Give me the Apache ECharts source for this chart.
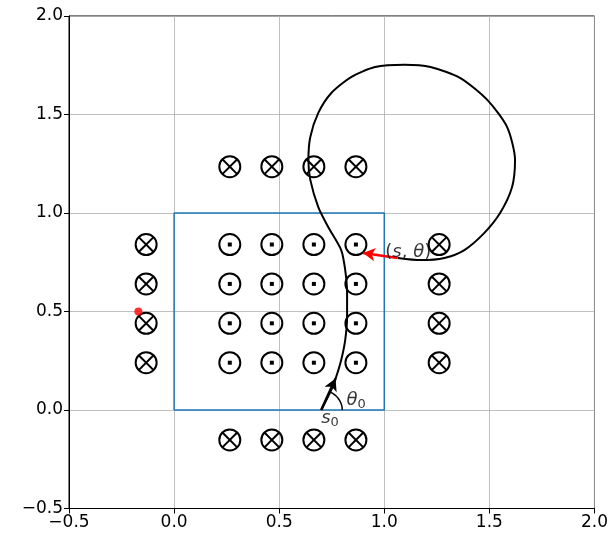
<!DOCTYPE html>
<html><head><meta charset="utf-8">
<script src="https://cdn.jsdelivr.net/npm/echarts@6/dist/echarts.min.js"></script>
<style>html,body{margin:0;padding:0;background:#fff}#c{width:611px;height:541px}</style>
</head><body><div id="c"></div>
<script>
// ---- data ----
const gridCols = [0.265, 0.465, 0.665, 0.865];
const gridRows = [0.24, 0.44, 0.64, 0.84];
const sideColsX = [-0.133, 1.261];
const topRowY = 1.235;
const bottomRowY = -0.152;
const trajX = [0.700,0.748,0.771,0.795,0.814,0.823,0.823,0.814,0.795,0.733,0.686,0.648,0.639,0.648,0.686,0.748,0.842,0.956,1.097,1.220,1.362,1.490,1.584,1.622,1.608,1.551,1.475,1.381,1.286,1.173,1.064];
const trajY = [0.000,0.102,0.168,0.254,0.355,0.472,0.594,0.711,0.812,0.929,1.030,1.168,1.269,1.386,1.508,1.609,1.690,1.741,1.753,1.741,1.685,1.574,1.437,1.269,1.132,1.000,0.898,0.812,0.772,0.761,0.772];
const redArrow = [[1.064, 0.772], [0.899, 0.797]];
const startArrow = [[0.700, 0.000], [0.768, 0.160]];
const theta0 = 66; // degrees
const arcRadius = 0.1;
const redDot = [-0.17, 0.5];
const boxX = [0, 1, 1, 0, 0];
const boxY = [0, 0, 1, 1, 0];
const xTicks = [-0.5, 0.0, 0.5, 1.0, 1.5, 2.0];
const yTicks = [-0.5, 0.0, 0.5, 1.0, 1.5, 2.0];

// ---- build ----
const dotPts = [];
gridRows.forEach(y => gridCols.forEach(x => dotPts.push([x, y, 0])));
const crossPts = [];
gridCols.forEach(x => { crossPts.push([x, topRowY, 1]); crossPts.push([x, bottomRowY, 1]); });
sideColsX.forEach(x => gridRows.forEach(y => crossPts.push([x, y, 1])));
const traj = trajX.map((x, i) => [x, trajY[i]]);
const box = boxX.map((x, i) => [x, boxY[i]]);
const arc = [];
for (let a = 0; a <= theta0; a += 3) {
  const r = a * Math.PI / 180;
  arc.push([startArrow[0][0] + arcRadius * Math.cos(r), startArrow[0][1] + arcRadius * Math.sin(r)]);
}
const fmt = v => (v < 0 ? '\u2212' : '') + Math.abs(v).toFixed(1);

function renderSym(params, api) {
  const p = api.coord([api.value(0), api.value(1)]);
  const kind = api.value(2);
  const r = 10.5;
  const st = { fill: null, stroke: '#000', lineWidth: 2 };
  const children = [{ type: 'circle', shape: { cx: p[0], cy: p[1], r: r }, style: st }];
  if (kind === 0) {
    children.push({ type: 'rect', shape: { x: p[0] - 2, y: p[1] - 2, width: 4, height: 4 }, style: { fill: '#000' } });
  } else {
    const d = r * 0.7071;
    children.push({ type: 'line', shape: { x1: p[0] - d, y1: p[1] - d, x2: p[0] + d, y2: p[1] + d }, style: { stroke: '#000', lineWidth: 2 } });
    children.push({ type: 'line', shape: { x1: p[0] - d, y1: p[1] + d, x2: p[0] + d, y2: p[1] - d }, style: { stroke: '#000', lineWidth: 2 } });
  }
  return { type: 'group', children: children };
}

const axisCommon = {
  type: 'value', min: -0.5, max: 2.0, interval: 0.5,
  axisLine: { show: true, onZero: false, lineStyle: { color: '#000', width: 1 } },
  axisTick: { show: true, inside: false, length: 5, lineStyle: { color: '#000' } },
  splitLine: { show: true, lineStyle: { color: '#b0b0b0', width: 0.8 } },
  axisLabel: { color: '#000', fontFamily: 'DejaVu Sans', fontSize: 17, formatter: fmt }
};

const mathI = { fontFamily: 'DejaVu Sans', fontStyle: 'italic', fontSize: 18, color: '#000' };
const mathN = { fontFamily: 'DejaVu Sans', fontSize: 18, color: '#000' };
const mathSub = { fontFamily: 'DejaVu Sans', fontSize: 13, color: '#000', padding: [9, 0, 0, 0] };

const chart = echarts.init(document.getElementById('c'), null, { renderer: 'canvas' });
chart.setOption({
  animation: false,
  grid: { left: 69, right: 13, top: 16, bottom: 32.5, show: true, borderColor: '#000', borderWidth: 1, backgroundColor: 'transparent' },
  xAxis: Object.assign({}, axisCommon, { axisLabel: Object.assign({}, axisCommon.axisLabel, { margin: 6 }) }),
  yAxis: Object.assign({}, axisCommon, { axisLabel: Object.assign({}, axisCommon.axisLabel, { margin: 6 }) }),
  series: [
    { type: 'line', data: box, symbol: 'none', lineStyle: { color: '#1f77b4', width: 1.5 }, z: 2 },
    { type: 'custom', renderItem: renderSym, data: dotPts, z: 3 },
    { type: 'custom', renderItem: renderSym, data: crossPts, z: 3 },
    { type: 'line', data: traj, symbol: 'none', smooth: 0.25, lineStyle: { color: '#000', width: 2 }, z: 4,
      markLine: {
        silent: true, symbol: ['none', 'arrow'], symbolSize: [10, 12], label: { show: false },
        data: [
          [{ coord: redArrow[0], lineStyle: { color: '#ff0000', width: 2.5, type: 'solid' } }, { coord: redArrow[1] }],
          [{ coord: startArrow[0], lineStyle: { color: '#000', width: 2.5, type: 'solid' } }, { coord: startArrow[1] }]
        ]
      }
    },
    { type: 'line', data: arc, symbol: 'none', smooth: true, lineStyle: { color: '#000', width: 1.5 }, z: 4 },
    { type: 'scatter', data: [redDot], symbol: 'circle', symbolSize: 8, itemStyle: { color: '#ff0000' }, z: 5 },
    { type: 'scatter', symbolSize: 0, z: 6,
      data: [
        { value: [1.0, 0.8], label: { show: true, position: 'right', offset: [-4, 0], formatter: '{n|(}{i|s}{n|, }{i|\u03b8}{n|)}', rich: { n: mathN, i: mathI } } },
        { value: [0.82, 0.05], label: { show: true, position: 'right', offset: [-5, 0], formatter: '{i|\u03b8}{s|0}', rich: { i: mathI, s: mathSub } } },
        { value: [0.70, -0.04], label: { show: true, position: 'right', offset: [-5, 0], formatter: '{i|s}{s|0}', rich: { i: mathI, s: mathSub } } }
      ]
    }
  ]
});
</script></body></html>
